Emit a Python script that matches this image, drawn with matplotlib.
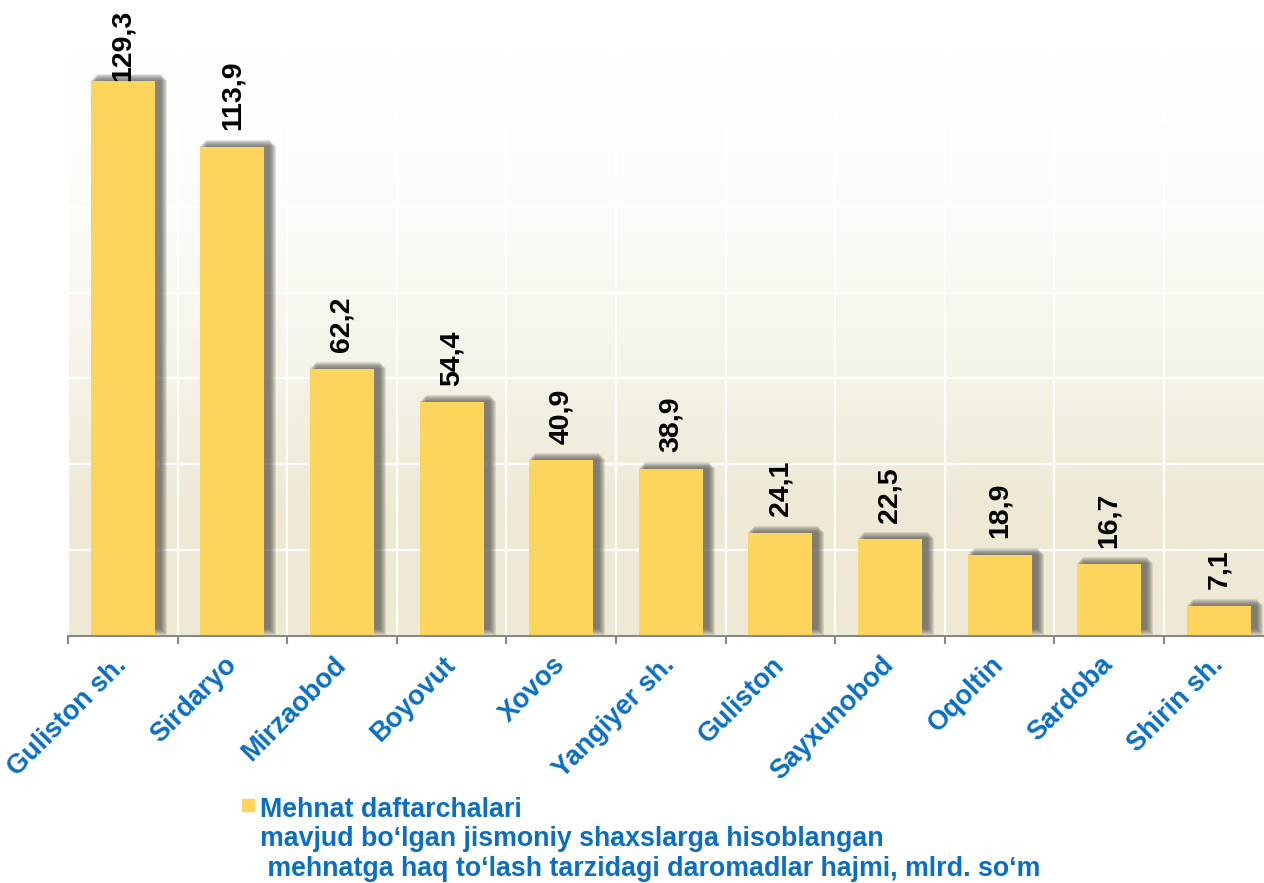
import numpy as np
import matplotlib
matplotlib.use("Agg")
from matplotlib import pyplot as plt
from matplotlib.patches import Rectangle
from matplotlib.colors import LinearSegmentedColormap

# donnees
districts = ["Guliston sh.", "Sirdaryo", "Mirzaobod", "Boyovut", "Xovos",
             "Yangiyer sh.", "Guliston", "Sayxunobod", "Oqoltin", "Sardoba",
             "Shirin sh."]
values = [129.3, 113.9, 62.2, 54.4, 40.9, 38.9, 24.1, 22.5, 18.9, 16.7, 7.1]
value_labels = ["129,3", "113,9", "62,2", "54,4", "40,9", "38,9", "24,1",
                "22,5", "18,9", "16,7", "7,1"]
legend_text = ("Mehnat daftarchalari\n"
               "mavjud bo\u2018lgan jismoniy shaxslarga hisoblangan\n"
               " mehnatga haq to\u2018lash tarzidagi daromadlar hajmi, mlrd. so\u2018m")

plt.rcParams['font.family'] = ['Liberation Sans', 'DejaVu Sans']
plt.rcParams['font.weight'] = 'bold'

W, H = 1264, 883
bar_color = '#FED55C'
blue = '#0A6FC2'
ymax = 140

fig = plt.figure(figsize=(W / 100, H / 100), dpi=100)
ax_left, ax_bottom = 68, 636
ax_w = 109.6 * len(districts)
ax_top = 35
ax = fig.add_axes([ax_left / W, 1 - ax_bottom / H, ax_w / W, (ax_bottom - ax_top) / H])

x = np.arange(len(districts))
ax.set_xlim(-0.5, len(districts) - 0.5)
ax.set_ylim(0, ymax)

# fond en degrade
yy = np.linspace(ymax, 0, 300)
t = np.clip((ymax - yy) / 110, 0, 1) ** 1.7
cmap = LinearSegmentedColormap.from_list("bg", ["#FFFFFF", "#EEE9D5"])
ax.imshow(t[:, None], cmap=cmap, vmin=0, vmax=1, aspect='auto',
          extent=(-0.5, len(districts) - 0.5, 0, ymax), zorder=0)

# grille
ax.set_yticks(np.arange(0, ymax + 1, 20))
ax.set_xticks(np.arange(-0.5, len(districts), 1), minor=True)
ax.set_xticks(x)
ax.grid(True, axis='y', which='major', color='white', lw=1.6, zorder=1)
ax.grid(True, axis='x', which='minor', color='white', lw=1.6, zorder=1)
ax.grid(False, axis='x', which='major')

# ombres floues
px_x = 1 / 109.6
px_y = ymax / (ax_bottom - ax_top)
bw = 0.585
for g in [6, 5, 4, 3, 2, 1, 0]:
    ax.bar(x + 6 * px_x, values, width=bw + 2 * g * px_x,
           bottom=7 * px_y - g * px_y, color='#4f4d46', alpha=0.15,
           linewidth=0, zorder=2)
ax.bar(x, values, width=bw, color=bar_color, linewidth=0, zorder=3)

for xi, v, lab in zip(x, values, value_labels):
    off = 0 if v == max(values) else 12
    ax.annotate(lab, (xi, v), xytext=(0, off), textcoords='offset points',
                rotation=90, ha='center', va='bottom', fontsize=20.5,
                fontweight='bold', color='black', zorder=5, annotation_clip=False)

ax.set_xticklabels(districts, rotation=45, ha='right', va='center',
                   rotation_mode='anchor', fontsize=19.5, fontweight='bold', color=blue)
ax.tick_params(axis='x', which='major', length=0, pad=18)
ax.tick_params(axis='x', which='minor', length=6, color='#888888', width=1.5)
ax.tick_params(axis='y', left=False, labelleft=False)
for lbl in ax.get_xticklabels():
    lbl.set_x(lbl.get_position()[0])
for s in ['left', 'right', 'top']:
    ax.spines[s].set_visible(False)
ax.spines['bottom'].set_color('#888888')
ax.spines['bottom'].set_linewidth(1.5)
ax.spines['bottom'].set_zorder(4)

# legende
fig.patches.append(Rectangle((242 / W, 1 - 811 / H), 12 / W, 12 / H,
                             transform=fig.transFigure, color=bar_color))
fig.text(260 / W, 1 - 797 / H, legend_text, ha='left', va='top', fontsize=19.3,
         fontweight='bold', color=blue, linespacing=1.17)

fig.savefig("out.png", dpi=100)
